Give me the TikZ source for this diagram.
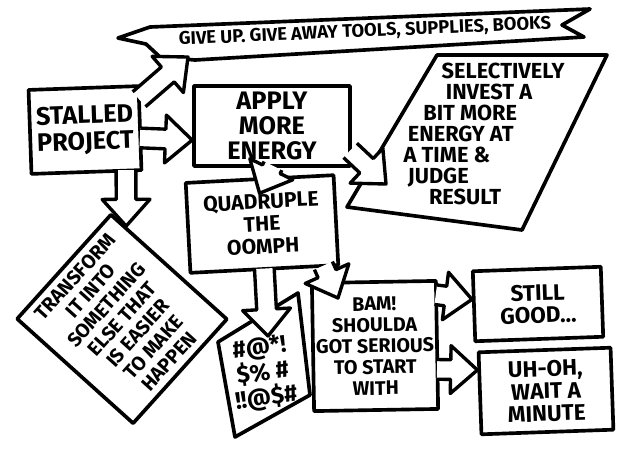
\documentclass[tikz,border=0pt]{standalone}
\usepackage{fontspec}
\setmainfont{Fira Sans}
\usetikzlibrary{calc}

\newcommand{\shaftw}{7pt}
\newcommand{\headw}{17pt}
\newcommand{\headl}{19pt}
% hollow block arrow, from #1 to #2
\newcommand{\fatarrow}[2]{%
  \fill[white] ($(#1)!-1.6pt!(#2)!\shaftw!90:(#2)$)
    -- ($(#2)!\headl!(#1)!\shaftw!-90:(#1)$)
    -- ($(#2)!\headl!(#1)!\headw!-90:(#1)$) -- (#2)
    -- ($(#2)!\headl!(#1)!\headw!90:(#1)$)
    -- ($(#2)!\headl!(#1)!\shaftw!90:(#1)$)
    -- ($(#1)!-1.6pt!(#2)!\shaftw!-90:(#2)$) -- cycle;
  \draw[fat line] ($(#1)!-1.6pt!(#2)!\shaftw!90:(#2)$)
    -- ($(#2)!\headl!(#1)!\shaftw!-90:(#1)$)
    -- ($(#2)!\headl!(#1)!\headw!-90:(#1)$) -- (#2)
    -- ($(#2)!\headl!(#1)!\headw!90:(#1)$)
    -- ($(#2)!\headl!(#1)!\shaftw!90:(#1)$)
    -- ($(#1)!-1.6pt!(#2)!\shaftw!-90:(#2)$);
}

\begin{document}
\begin{tikzpicture}[x=0.025cm,y=-0.025cm,
    sketch box/.style={draw,line width=2.6pt,fill=white,line join=round,
      align=center,inner sep=1pt,font=\bfseries\fontsize{16}{16}\selectfont},
    sketch line/.style={draw,line width=2.6pt,fill=white,line join=round},
    label text/.style={align=center,inner sep=1pt,
      font=\bfseries\fontsize{15.5}{15}\selectfont},
    fat line/.style={line width=2.4pt,line join=round}]
  \useasboundingbox (0,0) rectangle (640,470);

  % ribbon at the top
  \draw[sketch line] (118,38) -- (150,27) -- (590,9) -- (562,25) -- (584,37)
    -- (195,60) -- (160,57) -- (146,44) -- cycle;
  \node[label text,font=\bfseries\fontsize{13}{14}\selectfont,rotate=2.5]
    (giveup) at (365,32) {GIVE UP. GIVE AWAY TOOLS, SUPPLIES, BOOKS};
  \coordinate (gupin) at (188,57);

  % boxes
  \node[sketch box,minimum width=2.75cm,minimum height=2.1cm,rotate=2,
    font=\bfseries\fontsize{18}{19}\selectfont]
    (stalled) at (85,130) {STALLED\\PROJECT};
  \node[sketch box,minimum width=3.9cm,minimum height=2cm,
    font=\bfseries\fontsize{18}{18}\selectfont]
    (apply) at (272,126) {APPLY\\MORE\\ENERGY};

  \draw[sketch line] (437,55) -- (607,55) -- (522,230) -- (347,207) -- cycle;
  \node[label text,align=left,anchor=north west] (invest) at (402,61)
    {\hspace*{27pt}SELECTIVELY\\\hspace*{30pt}INVEST A\\\hspace*{14pt}BIT MORE\\
     \hspace*{3pt}ENERGY AT\\A TIME \&\\\hspace*{3pt}JUDGE\\\hspace*{18pt}RESULT};
  \coordinate (investin) at (386,184);

  \node[sketch box,minimum width=3.7cm,minimum height=2.25cm,rotate=3,
    font=\bfseries\fontsize{15}{16}\selectfont]
    (quad) at (262,224) {QUADRUPLE\\THE\\OOMPH};
  \coordinate (quadin) at ($(quad.north)+(0,16)$);

  \node[sketch box,rotate=48,minimum width=3.5cm,minimum height=3.9cm,
    font=\bfseries\fontsize{14}{15}\selectfont]
    (transform) at (122,319)
    {TRANSFORM\\IT INTO\\SOMETHING\\ELSE THAT\\IS EASIER\\TO MAKE\\HAPPEN};
  \coordinate (transin) at ($(transform.north east)!0.13!(transform.south east)$);

  \draw[sketch line] (218,342) -- (298,293) -- (310,395) -- (235,437) -- cycle;
  \node[label text,rotate=8,font=\bfseries\fontsize{17}{18}\selectfont]
    (curse) at (263,374) {\#@*!\\\$\% \#\\!!@\$\#};
  \coordinate (cursein) at (268,336);

  \node[sketch box,minimum width=3.1cm,minimum height=3.2cm,rotate=1,
    font=\bfseries\fontsize{14}{15}\selectfont]
    (bam) at (375,346) {BAM!\\SHOULDA\\GOT SERIOUS\\TO START\\WITH};
  \coordinate (bamin) at (338,298);

  \node[sketch box,minimum width=3.2cm,minimum height=1.75cm,rotate=2]
    (still) at (538,304) {STILL\\GOOD\dots};
  \node[sketch box,minimum width=3.3cm,minimum height=2.05cm,rotate=2]
    (uhoh) at (546,391) {UH-OH,\\WAIT A\\MINUTE};

  % arrows
  \fatarrow{stalled.28}{gupin}
  \fatarrow{stalled.-10}{apply.190}
  \fatarrow{stalled.-48}{transin}
  \fatarrow{apply.-18}{investin}
  \fatarrow{apply.south}{quadin}
  \fatarrow{quad.south}{cursein}
  \fatarrow{quad.-38}{bamin}
  \fatarrow{bam.38}{still.174}
  \fatarrow{bam.-21}{uhoh.161}
\end{tikzpicture}
\end{document}
